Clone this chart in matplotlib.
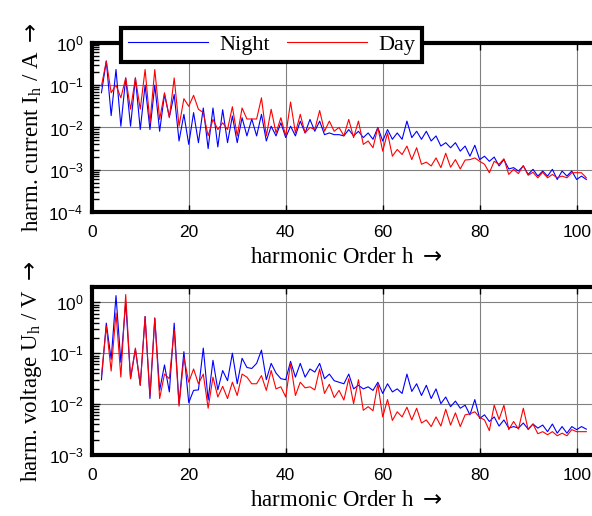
import numpy as np
import matplotlib.pyplot as plt
from matplotlib.ticker import LogLocator, NullFormatter

SERIF = ['Liberation Serif', 'DejaVu Serif']
SANS = ['Liberation Sans', 'DejaVu Sans']
ARROW = r'$\rightarrow$'

# harmonic orders shown on the x axis
h = np.arange(2, 103)

# log10 of the measured amplitudes, one value per harmonic order (h = 2 ... 102)
current_night_exp = [
    -1.18, -0.43, -1.72, -0.63, -1.97, -0.83, -1.97, -0.83, -2.05, -1.00,
    -2.05, -1.00, -2.09, -1.22, -1.75, -1.22, -2.32, -1.69, -2.40, -1.65,
    -2.36, -1.54, -2.50, -1.54, -2.46, -1.58, -2.36, -1.73, -2.36, -1.77,
    -2.20, -1.80, -2.20, -1.69, -2.32, -1.97, -2.20, -1.89, -2.24, -1.97,
    -2.20, -1.85, -2.13, -1.81, -2.09, -1.85, -2.17, -2.13, -2.17, -2.17,
    -2.20, -2.05, -2.20, -2.09, -2.24, -2.13, -2.28, -2.00, -2.32, -2.05,
    -2.28, -2.13, -2.28, -1.85, -2.24, -2.09, -2.28, -2.09, -2.32, -2.20,
    -2.44, -2.36, -2.48, -2.36, -2.56, -2.44, -2.68, -2.42, -2.76, -2.68,
    -2.80, -2.70, -2.91, -2.76, -2.98, -2.95, -3.03, -2.91, -3.11, -2.99,
    -3.15, -3.03, -3.15, -2.99, -3.23, -3.03, -3.15, -3.03, -3.23, -3.15,
    -3.23,
]
current_day_exp = [
    -1.02, -0.43, -1.18, -1.00, -1.30, -0.83, -1.57, -0.83, -1.57, -0.63,
    -1.89, -0.63, -1.81, -1.18, -1.77, -0.83, -1.97, -1.32, -1.50, -1.24,
    -1.57, -1.65, -2.20, -1.81, -2.05, -1.89, -2.05, -1.51, -2.20, -1.54,
    -1.80, -1.80, -1.80, -1.30, -2.20, -1.57, -2.13, -1.77, -2.20, -1.40,
    -2.13, -1.69, -2.13, -2.00, -2.05, -1.60, -2.09, -1.85, -2.09, -2.00,
    -2.20, -1.81, -2.24, -1.85, -2.40, -2.32, -2.48, -2.00, -2.56, -2.13,
    -2.68, -2.52, -2.64, -2.44, -2.76, -2.48, -2.87, -2.82, -2.91, -2.72,
    -2.95, -2.61, -2.94, -2.76, -2.98, -2.77, -2.76, -2.72, -2.80, -2.87,
    -3.07, -2.80, -2.87, -2.74, -3.11, -2.99, -3.09, -2.90, -3.13, -3.06,
    -3.19, -3.06, -3.19, -3.11, -3.19, -3.15, -3.19, -3.07, -3.07, -3.07,
    -3.19,
]
voltage_night_exp = [
    -1.52, -0.41, -1.12, 0.13, -1.18, 0.00, -1.50, -0.92, -1.63, -0.28,
    -1.89, -0.31, -1.73, -1.23, -1.76, -0.41, -2.00, -0.97, -1.97, -1.73,
    -1.72, -0.90, -1.92, -1.14, -1.72, -1.34, -1.54, -1.00, -1.60, -1.10,
    -1.28, -1.30, -1.20, -0.94, -1.52, -1.20, -1.39, -1.50, -1.52, -1.16,
    -1.47, -1.20, -1.47, -1.31, -1.37, -1.20, -1.50, -1.41, -1.54, -1.57,
    -1.60, -1.41, -1.70, -1.63, -1.70, -1.66, -1.73, -1.57, -1.79, -1.60,
    -1.76, -1.70, -1.79, -1.41, -1.75, -1.60, -1.83, -1.63, -1.89, -1.70,
    -1.99, -1.86, -2.05, -1.94, -2.08, -2.02, -2.21, -1.91, -2.28, -2.21,
    -2.34, -2.25, -2.43, -2.31, -2.47, -2.44, -2.47, -2.37, -2.49, -2.39,
    -2.47, -2.41, -2.54, -2.39, -2.57, -2.44, -2.57, -2.44, -2.50, -2.44,
    -2.49,
]
voltage_day_exp = [
    -1.44, -0.47, -1.35, -0.21, -1.47, 0.15, -1.50, -0.90, -1.63, -0.28,
    -1.83, -0.31, -1.89, -1.41, -1.50, -0.54, -2.04, -1.08, -1.57, -1.31,
    -1.60, -1.41, -2.08, -1.47, -1.86, -1.65, -1.89, -1.57, -1.83, -1.41,
    -1.47, -1.60, -1.60, -1.44, -1.73, -1.34, -1.70, -1.66, -1.86, -1.20,
    -1.83, -1.57, -1.68, -1.66, -1.72, -1.31, -1.79, -1.61, -1.87, -1.73,
    -1.92, -1.50, -1.99, -1.52, -2.12, -2.05, -2.13, -1.60, -2.25, -1.91,
    -2.32, -2.15, -2.25, -2.06, -2.31, -2.08, -2.37, -2.31, -2.44, -2.25,
    -2.43, -2.10, -2.41, -2.17, -2.44, -2.21, -2.19, -2.15, -2.26, -2.31,
    -2.52, -2.02, -2.30, -2.02, -2.50, -2.34, -2.49, -2.08, -2.50, -2.39,
    -2.58, -2.54, -2.60, -2.54, -2.62, -2.57, -2.62, -2.50, -2.54, -2.54,
    -2.54,
]

series_names = ['Night', 'Day']
series_colors = ['#0000ff', '#ff0000']
x_ticks = [0, 20, 40, 60, 80, 100]

fig = plt.figure(figsize=(5.92, 5.16), dpi=100)
ax_i = fig.add_axes([0.155, 0.589, 0.86, 0.328])
ax_u = fig.add_axes([0.155, 0.118, 0.86, 0.326])

panels = [
    (ax_i, current_night_exp, current_day_exp, (1e-4, 1.0),
     r'harm. current I$\mathregular{_h}$ / A ' + ARROW),
    (ax_u, voltage_night_exp, voltage_day_exp, (1e-3, 2.0),
     r'harm. voltage U$\mathregular{_h}$ / V ' + ARROW),
]

for ax, night, day, ylims, ylab in panels:
    ax.set_yscale('log')
    ax.plot(h, 10.0 ** np.array(night), color=series_colors[0], lw=0.8, label=series_names[0])
    ax.plot(h, 10.0 ** np.array(day), color=series_colors[1], lw=0.8, label=series_names[1])
    ax.set_xlim(0, 105)
    ax.set_ylim(ylims)
    ax.set_xticks(x_ticks)
    ax.yaxis.set_major_locator(LogLocator(base=10, numticks=10))
    ax.yaxis.set_minor_locator(LogLocator(base=10, subs=np.arange(2, 10), numticks=10))
    ax.yaxis.set_minor_formatter(NullFormatter())
    ax.grid(True, which='major', color='0.5', lw=0.8)
    ax.tick_params(axis='both', which='both', direction='in', top=True, right=False,
                   labelsize=12.5)
    ax.tick_params(axis='x', which='major', length=5, width=1, pad=9)
    ax.tick_params(axis='y', which='major', length=6, width=1, pad=6)
    ax.tick_params(axis='y', which='minor', length=5, width=1)
    for lbl in ax.get_xticklabels() + ax.get_yticklabels():
        lbl.set_family(SANS)
    for sp in ax.spines.values():
        sp.set_linewidth(3)
    ax.set_xlabel('harmonic Order h ' + ARROW, family=SERIF, fontsize=16.5, labelpad=5)
    ax.set_ylabel(ylab, family=SERIF, fontsize=16.5, labelpad=3)

leg = fig.legend(*ax_i.get_legend_handles_labels(), loc='center', ncol=2,
                 bbox_to_anchor=(0.459, 0.913), prop={'family': SERIF, 'size': 16},
                 frameon=True, fancybox=False, edgecolor='black', framealpha=1,
                 handlelength=3.6, columnspacing=0.8, handletextpad=0.5,
                 borderpad=0.3)
leg.get_frame().set_linewidth(3)

fig.savefig('out.png', dpi=100)
